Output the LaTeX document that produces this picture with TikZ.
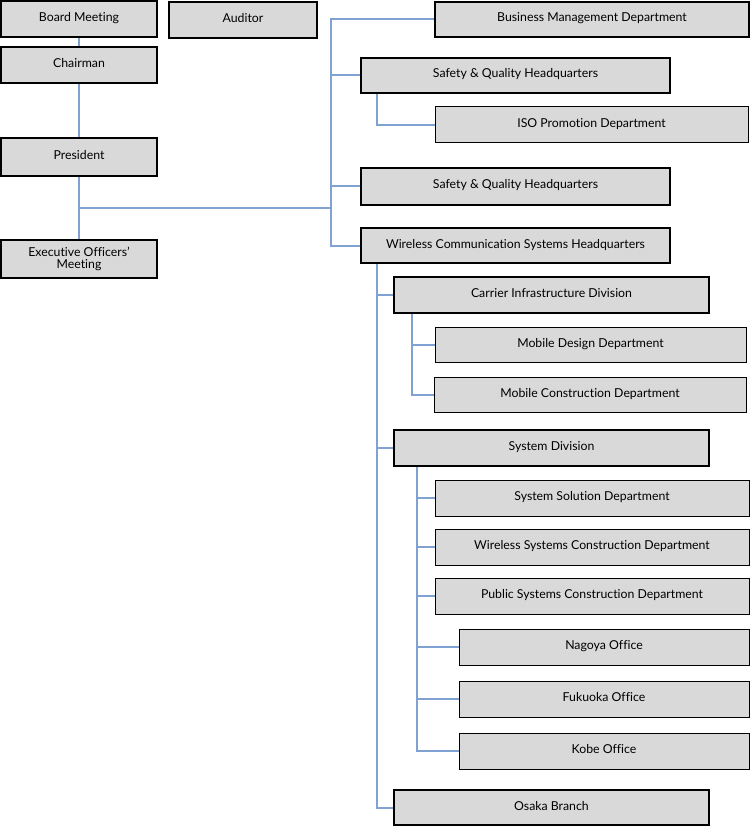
\documentclass[tikz,border=0pt]{standalone}
\usepackage{fontspec}
\setmainfont{Lato}[Ligatures=CommonOff]
\definecolor{linkblue}{RGB}{127,162,211}
\definecolor{boxgray}{RGB}{217,217,217}
\tikzset{
  unit/.style={draw, fill=boxgray, line width=2pt, inner sep=0pt,
    minimum width=#1, minimum height=36pt, text height=9pt, text depth=4pt,
    font=\fontsize{12.3}{14}\selectfont},
  unit/.default=156pt,
  dept/.style={unit=#1, line width=1pt},
  dept/.default=314pt,
  link/.style={draw=linkblue, line width=2pt}
}
\begin{document}
\begin{tikzpicture}[x=1pt, y=-1pt]
  \useasboundingbox (0,0) rectangle (750,826);
  % left column
  \node[unit] (board) at (79,19) {Board Meeting};
  \node[unit=148pt] (auditor) at (243,20) {Auditor};
  \node[unit] (chair) at (79,65) {Chairman};
  \node[unit, minimum height=38pt] (pres) at (79,157) {President};
  \node[unit, minimum height=38pt, text height=, text depth=, align=center] (exec) at (79,259) {Executive Officers'\\[-2pt]Meeting};
  % headquarters
  \node[unit=314pt, minimum height=35pt] (bmd) at (592,19.5) {Business Management Department};
  \node[unit=309pt, minimum height=35pt] (sq1) at (515.5,75.5) {Safety \& Quality Headquarters};
  \node[dept=313pt] (iso) at (591.5,125) {ISO Promotion Department};
  \node[unit=309pt, minimum height=37pt] (sq2) at (515.5,186.5) {Safety \& Quality Headquarters};
  \node[unit=309pt, minimum height=35pt] (wcs) at (515.5,245.5) {Wireless Communication Systems Headquarters};
  % divisions
  \node[unit=315pt] (carrier) at (551.5,295) {Carrier Infrastructure Division};
  \node[dept=311pt, minimum height=35pt] (mdes) at (590.5,344.5) {Mobile Design Department};
  \node[dept=312pt, minimum height=35pt] (mcon) at (590,394.5) {Mobile Construction Department};
  \node[unit=315pt] (sysdiv) at (551.5,448) {System Division};
  \node[dept] (ssol) at (592,498) {System Solution Department};
  \node[dept] (wsc) at (592,547) {Wireless Systems Construction Department};
  \node[dept] (psc) at (592,596) {Public Systems Construction Department};
  \node[dept=290pt] (nagoya) at (604,647) {Nagoya Office};
  \node[dept=290pt] (fukuoka) at (604,699) {Fukuoka Office};
  \node[dept=290pt] (kobe) at (604,751) {Kobe Office};
  \node[unit=315pt, minimum height=35pt] (osaka) at (551.5,807.5) {Osaka Branch};
  % connectors
  \coordinate (jp) at (79,208);
  \coordinate (trunk) at (331,208);
  \draw[link] (board) -- (chair);
  \draw[link] (chair) -- (pres);
  \draw[link] (pres) -- (exec);
  \draw[link] (jp) -- (trunk);
  \draw[link] (trunk) |- (bmd.west);
  \draw[link] (trunk) |- (sq1.west);
  \draw[link] (trunk) |- (sq2.west);
  \draw[link] (trunk) |- (wcs.west);
  \path (sq1.south west) ++(17,0) coordinate (s1);
  \draw[link] (s1) |- (iso.west);
  \path (wcs.south west) ++(17,0) coordinate (w1);
  \draw[link] (w1) |- (carrier.west);
  \draw[link] (w1) |- (sysdiv.west);
  \draw[link] (w1) |- (osaka.west);
  \path (carrier.south west) ++(19,0) coordinate (c1);
  \draw[link] (c1) |- (mdes.west);
  \draw[link] (c1) |- (mcon.west);
  \path (sysdiv.south west) ++(24,0) coordinate (d1);
  \draw[link] (d1) |- (ssol.west);
  \draw[link] (d1) |- (wsc.west);
  \draw[link] (d1) |- (psc.west);
  \draw[link] (d1) |- (nagoya.west);
  \draw[link] (d1) |- (fukuoka.west);
  \draw[link] (d1) |- (kobe.west);
\end{tikzpicture}
\end{document}
